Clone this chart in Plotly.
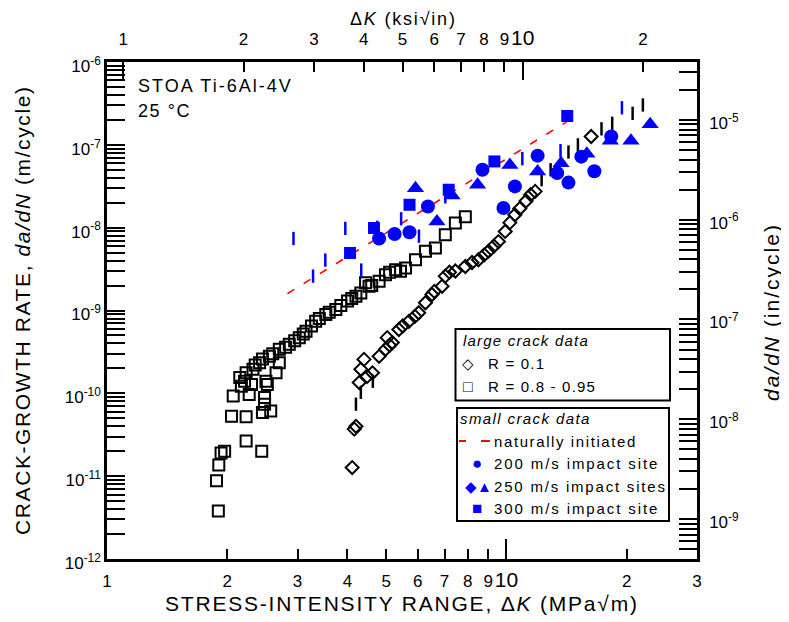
import plotly.graph_objects as go
import math

# ---------------- data ----------------
# large crack data, R = 0.8 - 0.95 (open squares)
sq_K = [1.90, 1.88, 1.905, 1.93, 1.97, 2.23, 2.44, 2.05, 2.23, 2.45,
        2.57, 2.07, 2.27, 2.48, 2.48, 2.17, 2.15, 2.21, 2.30, 2.52,
        2.50, 2.23, 2.32, 2.41, 2.55, 2.65, 2.70, 2.70, 2.86, 3.03,
        3.15, 3.33, 3.53, 3.74, 4.00, 4.20, 4.32, 4.44, 4.53, 4.80,
        4.98, 5.28, 5.43, 5.59, 5.92, 6.27, 6.64, 7.03, 7.45, 7.89,
        2.35, 2.45, 2.60, 2.80, 2.95, 3.10, 3.25, 3.40, 3.60, 3.85,
        4.10, 4.60, 5.10]
sq_dadN = [3.8e-12, 8.8e-12, 1.36e-11, 1.9e-11, 2.0e-11, 2.66e-11, 2.0e-11, 5.3e-11, 5.2e-11, 5.85e-11,
           6.1e-11, 9.3e-11, 9.7e-11, 8.9e-11, 7.4e-11, 1.22e-10, 1.55e-10, 1.4e-10, 1.28e-10, 1.28e-10,
           1.4e-10, 1.77e-10, 1.95e-10, 2.34e-10, 2.8e-10, 1.77e-10, 2.34e-10, 3.4e-10, 3.9e-10, 4.7e-10,
           5.6e-10, 7.4e-10, 8.95e-10, 1.03e-9, 1.3e-9, 1.49e-9, 1.63e-9, 2.16e-9, 1.96e-9, 2.25e-9,
           2.7e-9, 3.1e-9, 2.98e-9, 3.27e-9, 4.1e-9, 5.2e-9, 5.7e-9, 8.2e-9, 1.14e-8, 1.35e-8,
           2.2e-10, 2.6e-10, 3.0e-10, 3.6e-10, 4.3e-10, 5.2e-10, 6.5e-10, 8.0e-10, 9.5e-10, 1.15e-9,
           1.4e-9, 2.0e-9, 2.9e-9]

# large crack data, R = 0.1 (open diamonds)
dm_K = [4.11, 4.16, 4.20, 4.28, 4.32, 4.40, 4.48, 4.62, 4.80, 4.98,
        5.03, 5.18, 5.38, 5.70, 6.03, 6.27, 6.51, 6.90, 7.03, 7.45,
        7.89, 8.51, 9.02, 9.55, 9.93, 10.5, 11.5, 11.8, 16.3, 5.10,
        5.50, 5.90, 6.60, 7.20, 8.20, 8.80, 9.30, 10.2, 10.8, 11.2]
dm_dadN = [1.27e-11, 3.7e-11, 4.0e-11, 1.35e-10, 1.95e-10, 2.57e-10, 1.6e-10, 1.77e-10, 2.8e-10, 3.4e-10,
           4.7e-10, 4.1e-10, 5.9e-10, 7.4e-10, 9.4e-10, 1.24e-9, 1.56e-9, 1.96e-9, 2.6e-9, 3.0e-9,
           3.4e-9, 4.1e-9, 5.2e-9, 6.8e-9, 9.0e-9, 1.43e-8, 2.5e-8, 2.74e-8, 1.26e-7, 3.8e-10,
           6.5e-10, 8.5e-10, 1.7e-9, 2.9e-9, 3.8e-9, 4.7e-9, 6.0e-9, 1.15e-8, 1.7e-8, 2.1e-8]
# R = 0.1 points drawn as thin vertical marks
dmv_K = [4.20, 4.32, 4.63, 12.25, 12.9, 14.3, 15.1, 17.3, 18.4, 20.7, 21.96]
dmv_dadN = [7.4e-11, 1.03e-10, 1.4e-10, 3.8e-8, 5.0e-8, 8.2e-8, 1.0e-7, 1.56e-7, 1.82e-7, 2.4e-7, 3.03e-7]

# small crack data
nat_K = [2.83, 15.1]                 # naturally initiated (fit line)
nat_dadN = [1.6e-9, 2.3e-7]

c200_K = [4.80, 5.25, 5.72, 6.36, 8.71, 9.83, 10.5, 11.97, 13.4, 14.3, 15.4, 16.6, 18.3]
c200_dadN = [7.4e-9, 8.4e-9, 8.8e-9, 1.8e-8, 5.0e-8, 1.73e-8, 3.15e-8, 7.4e-8, 4.56e-8, 3.5e-8,
             7.2e-8, 4.8e-8, 1.26e-7]

t250_K = [5.92, 6.70, 7.31, 8.47, 10.2, 11.97, 13.7, 15.9, 18.2, 20.5, 22.9]
t250_dadN = [3.0e-8, 1.19e-8, 2.45e-8, 3.3e-8, 5.7e-8, 4.77e-8, 6.0e-8, 7.8e-8, 1.12e-7, 1.12e-7, 1.77e-7]

d250_K = [2.93, 3.28, 3.52, 3.95, 4.33, 4.75, 5.45, 6.04, 7.03, 10.96, 13.66, 19.46]
d250_dadN = [7.4e-9, 2.6e-9, 4.06e-9, 9.8e-9, 3.08e-9, 1.01e-8, 1.28e-8, 7.9e-9, 2.36e-8, 6.8e-8,
             8.5e-8, 2.8e-7]

s300_K = [4.06, 4.66, 5.72, 7.17, 9.33, 14.2]
s300_dadN = [4.95e-9, 9.9e-9, 1.89e-8, 2.87e-8, 6.3e-8, 2.23e-7]

# axes / ticks
x_range_mpa = [1, 30]
MPA_PER_KSI = 1.0988
y_range_m = [1e-12, 1e-6]
y_range_in_log = [-9.40, -4.42]

x_tickvals = [1, 2, 3, 4, 5, 6, 7, 8, 9, 10, 20, 30]
x_ticktext = ["1", "2", "3", "4", "5", "6", "7", "8", "9",
              "<span style='font-size:21px'>10</span>", "2", "3"]
top_tickvals = [1, 2, 3, 4, 5, 6, 7, 8, 9, 10, 20]
top_ticktext = ["1", "2", "3", "4", "5", "6", "7", "8", "9",
                "<span style='font-size:21px'>10</span>", "2"]
yl_exps = [-12, -11, -10, -9, -8, -7, -6]
yr_exps = [-9, -8, -7, -6, -5]

BLUE = "#0000FF"
FONT = "Liberation Sans, Arial, sans-serif"

def minor_vals(e_lo, e_hi):
    return [m * 10.0 ** e for e in range(e_lo, e_hi) for m in range(2, 10)]

fig = go.Figure()

fig.add_trace(go.Scatter(x=nat_K, y=nat_dadN, mode="lines",
                         line=dict(color="red", width=1.6, dash="8px,11px"),
                         showlegend=False))
fig.add_trace(go.Scatter(x=sq_K, y=sq_dadN, mode="markers",
                         marker=dict(symbol="square-open", size=11, color="black",
                                     line=dict(width=2, color="black")),
                         showlegend=False))
fig.add_trace(go.Scatter(x=dm_K, y=dm_dadN, mode="markers",
                         marker=dict(symbol="diamond-open", size=10, color="black",
                                     line=dict(width=2, color="black")),
                         showlegend=False))
fig.add_trace(go.Scatter(x=dmv_K, y=dmv_dadN, mode="markers",
                         marker=dict(symbol="line-ns", size=9.5,
                                     line=dict(width=2.5, color="black")),
                         showlegend=False))
fig.add_trace(go.Scatter(x=d250_K, y=d250_dadN, mode="markers",
                         marker=dict(symbol="line-ns", size=9.5,
                                     line=dict(width=2.5, color=BLUE)),
                         showlegend=False))
fig.add_trace(go.Scatter(x=c200_K, y=c200_dadN, mode="markers",
                         marker=dict(symbol="circle", size=14, color=BLUE),
                         showlegend=False))
fig.add_trace(go.Scatter(x=t250_K, y=t250_dadN, mode="markers",
                         marker=dict(symbol="triangle-up", size=15, color=BLUE),
                         showlegend=False))
fig.add_trace(go.Scatter(x=s300_K, y=s300_dadN, mode="markers",
                         marker=dict(symbol="square", size=12, color=BLUE),
                         showlegend=False))

# empty traces to register the overlay axes
for xa, ya in [("x2", "y"), ("x3", "y"), ("x4", "y"), ("x", "y2")]:
    fig.add_trace(go.Scatter(x=[], y=[], xaxis=xa, yaxis=ya, showlegend=False,
                             hoverinfo="skip"))

xr = [math.log10(x_range_mpa[0]), math.log10(x_range_mpa[1])]
xr_ksi = [math.log10(x_range_mpa[0] / MPA_PER_KSI), math.log10(x_range_mpa[1] / MPA_PER_KSI)]
yr = [math.log10(y_range_m[0]), math.log10(y_range_m[1])]

axis_common = dict(type="log", showgrid=False, zeroline=False, ticks="inside",
                   tickcolor="black", tickwidth=2, tickfont=dict(size=17, color="black"))

# the page body adds an 8 px offset, so the figure is 8 px smaller
fig.update_layout(
    width=781, height=614,
    margin=dict(l=99, r=92, t=54, b=63),
    plot_bgcolor="white", paper_bgcolor="white",
    font=dict(family=FONT, color="black"),
    xaxis=dict(axis_common, range=xr, tickmode="array", tickvals=x_tickvals,
               ticktext=x_ticktext, ticklen=10, showline=True, linewidth=2.5,
               linecolor="black", mirror=False, ticklabelstandoff=5, tickangle=0),
    xaxis3=dict(axis_common, range=xr, overlaying="x", anchor="y", side="bottom",
                tickmode="array", tickvals=[10], ticklen=20, showticklabels=False,
                showline=False),
    xaxis2=dict(axis_common, range=xr_ksi, overlaying="x", anchor="y", side="top",
                tickmode="array", tickvals=top_tickvals, ticktext=top_ticktext,
                ticklen=10, showline=True, linewidth=2.5, linecolor="black",
                ticklabelstandoff=7, tickangle=0),
    xaxis4=dict(axis_common, range=xr_ksi, overlaying="x", anchor="y", side="top",
                tickmode="array", tickvals=[1, 10], ticklen=18, showticklabels=False,
                showline=False),
    yaxis=dict(axis_common, range=yr, tickmode="array",
               tickvals=[10.0 ** e for e in yl_exps],
               ticktext=["10<sup>%d</sup>" % e for e in yl_exps],
               ticklen=18, showline=True, linewidth=2.5, linecolor="black",
               ticklabelshift=4,
               minor=dict(tickmode="array", tickvals=minor_vals(-12, -6),
                          ticks="inside", ticklen=18, tickwidth=1.5, tickcolor="black")),
    yaxis2=dict(axis_common, range=y_range_in_log, overlaying="y", anchor="x", side="right",
                tickmode="array", tickvals=[10.0 ** e for e in yr_exps],
                ticktext=["10<sup>%d</sup>" % e for e in yr_exps],
                ticklen=18, showline=True, linewidth=2.5, linecolor="black",
                ticklabelstandoff=6, ticklabelshift=3,
                minor=dict(tickmode="array", tickvals=minor_vals(-10, -4),
                           ticks="inside", ticklen=18, tickwidth=1.5, tickcolor="black")),
)

W, H, L, T = 590.0, 497.0, 107.0, 62.0
def px(xp):
    return (xp - L) / W
def py(yp):
    return (T + H - yp) / H

ann = []
def text(x, y, s, size=16, anchor="left", color="black", angle=0, spacing=0):
    if spacing:
        s = "<span style='letter-spacing:%.1fpx'>%s</span>" % (spacing, s)
    ann.append(dict(x=px(x), y=py(y), xref="paper", yref="paper", text=s,
                    showarrow=False, xanchor=anchor, yanchor="middle",
                    textangle=angle, font=dict(size=size, color=color, family=FONT)))

# axis titles
text(402, 603, "STRESS-INTENSITY RANGE, Δ<i>K</i> (MPa√m)", size=21, anchor="center", spacing=1.8)
text(22, 310, "CRACK-GROWTH RATE, <i>da/dN</i> (m/cycle)", size=21, anchor="center", angle=-90,
     spacing=1.6)
text(771, 312, "<i>da/dN</i> (in/cycle)", size=21, anchor="center", angle=-90, spacing=2.0)
text(403, 19, "Δ<i>K</i> (ksi√in)", size=18, anchor="center", spacing=1.8)
# material note
text(136, 86, "STOA Ti-6Al-4V", size=18, spacing=2.0)
text(136, 111, "25 °C", size=18, spacing=1.6)

# legend: large crack data
text(461, 340, "<i>large crack data</i>", size=15, spacing=1.2)
text(468, 363, "◇", size=15, anchor="center")
text(486, 363, "R = 0.1", size=15, spacing=1.2)
text(468, 386, "□", size=16, anchor="center")
text(486, 386, "R = 0.8 - 0.95", size=15, spacing=1.2)
# legend: small crack data
text(458, 418, "<i>small crack data</i>", size=15, spacing=1.4)
text(492, 441, "naturally initiated", size=15, spacing=1.6)
text(477, 463, "●", size=17, anchor="center", color=BLUE)
text(492, 463, "200 m/s impact site", size=15, spacing=1.9)
text(478, 486, "◆▲", size=15, anchor="center", color=BLUE)
text(492, 486, "250 m/s impact sites", size=15, spacing=1.8)
text(477, 508, "■", size=17, anchor="center", color=BLUE)
text(492, 508, "300 m/s impact site", size=15, spacing=1.9)

shapes = [
    dict(type="rect", xref="paper", yref="paper", x0=px(455.5), x1=px(670),
         y0=py(400.5), y1=py(329), line=dict(color="black", width=2), fillcolor="white",
         layer="below"),
    dict(type="rect", xref="paper", yref="paper", x0=px(457), x1=px(669),
         y0=py(521), y1=py(408), line=dict(color="black", width=2), fillcolor="white",
         layer="below"),
    dict(type="line", xref="paper", yref="paper", x0=px(459), x1=px(466),
         y0=py(441), y1=py(441), line=dict(color="red", width=2)),
    dict(type="line", xref="paper", yref="paper", x0=px(481), x1=px(490),
         y0=py(441), y1=py(441), line=dict(color="red", width=2)),
]

fig.update_layout(annotations=ann, shapes=shapes)
fig.write_html("out.html")
